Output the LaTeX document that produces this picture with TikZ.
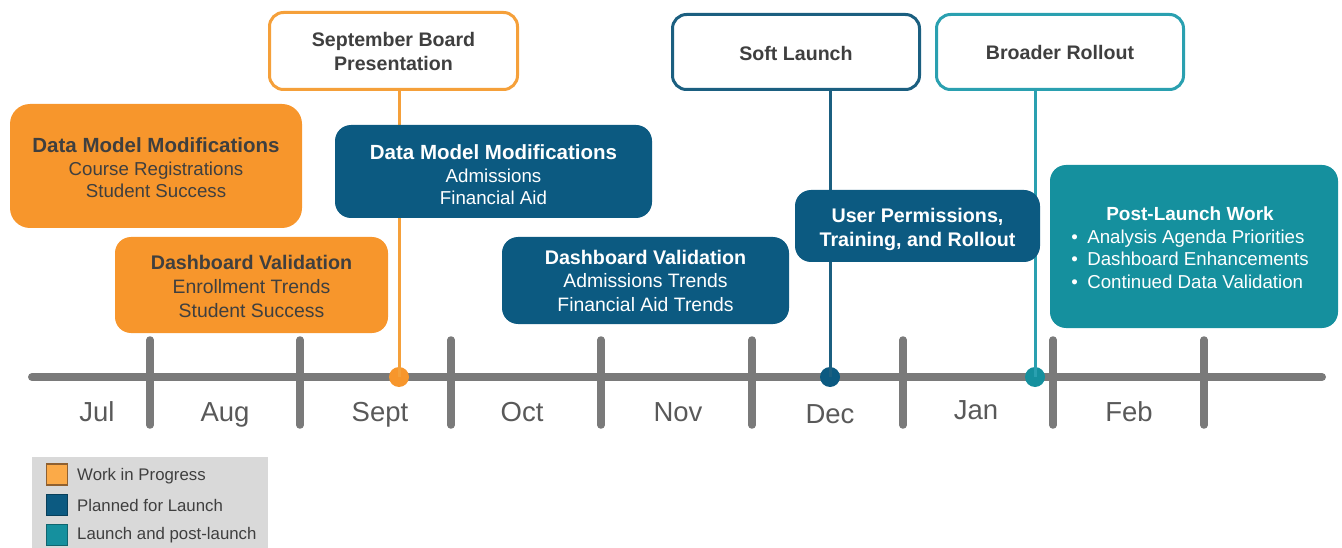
\documentclass[tikz,border=0pt]{standalone}
\usepackage{fontspec}
\setmainfont{Liberation Sans}
\definecolor{cOrange}{HTML}{F7962C}
\definecolor{cOrangeL}{HTML}{F5A03A}
\definecolor{cOrangeSq}{HTML}{FBAA48}
\definecolor{cBlue}{HTML}{0C5A81}
\definecolor{cBlueL}{HTML}{1B5F80}
\definecolor{cTeal}{HTML}{15909E}
\definecolor{cTealL}{HTML}{2AA0B0}
\definecolor{cText}{HTML}{3F3F3F}
\definecolor{cGray}{HTML}{7A7A7A}
\definecolor{cMonth}{HTML}{595959}
\definecolor{cLegend}{HTML}{D9D9D9}
\newcommand{\lowertext}[2]{\raisebox{-#1}[\height][\depth]{\begin{tabular}{@{}c@{}}#2\end{tabular}}}
\begin{document}
\begin{tikzpicture}[x=1pt,y=-1pt,
  axisline/.style={cGray, line width=8pt, line cap=round},
  box/.style={rounded corners=16pt, inner sep=0pt, align=center},
  wip/.style={box, fill=cOrange, text=cText},
  plan/.style={box, fill=cBlue, text=white},
  launch/.style={box, fill=cTeal, text=white},
  mile/.style={box, fill=white, line width=3pt, rounded corners=14pt, text=cText,
    font=\bfseries\fontsize{19.6}{24}\selectfont},
  dot/.style={circle, minimum size=20pt, inner sep=0pt},
  conn/.style={line width=3pt},
  month/.style={anchor=base, text=cMonth, font=\fontsize{27.5}{30}\selectfont},
  legsq/.style={minimum size=21pt, inner sep=0pt, line width=1.2pt},
  legtxt/.style={anchor=west, text=cText, font=\fontsize{16.8}{20}\selectfont, inner sep=0pt}
]
\useasboundingbox (0,0) rectangle (1342,548);

% timeline
\coordinate (tl0) at (32,377);
\coordinate (tl1) at (1322,377);
\draw[axisline] (tl0) -- (tl1);
\foreach \x in {150,300,451,601,752,903,1053,1204}
  \draw[axisline, line width=7.5pt] (\x,340) -- (\x,425);

% months
\node[month] (mJul) at (97,421) {Jul};
\node[month] (mAug) at (225,421) {Aug};
\node[month] (mSep) at (380,421) {Sept};
\node[month] (mOct) at (522,421) {Oct};
\node[month] (mNov) at (678,421) {Nov};
\node[month] (mDec) at (830,423) {Dec};
\node[month] (mJan) at (976,419) {Jan};
\node[month] (mFeb) at (1129,421) {Feb};

% milestones
\node[mile, draw=cOrangeL, minimum width=248pt, minimum height=77pt] (sept) at (393.5,51)
  {\lowertext{2.8pt}{September Board\\Presentation}};
\node[mile, draw=cBlueL, minimum width=247pt, minimum height=75pt] (soft) at (796,52)
  {\lowertext{3.3pt}{Soft Launch}};
\node[mile, draw=cTealL, minimum width=247pt, minimum height=75pt] (broad) at (1060,52)
  {Broader Rollout};

% dots
\node[dot, fill=cOrange] (dSept) at (399,377) {};
\node[dot, fill=cBlue] (dSoft) at (830,377) {};
\node[dot, fill=cTeal] (dBroad) at (1035,377) {};

% connectors
\draw[conn, cOrangeL] (dSept |- sept.south) -- (dSept.center);
\draw[conn, cBlueL] (dSoft |- soft.south) -- (dSoft.center);
\draw[conn, cTealL] (dBroad |- broad.south) -- (dBroad.center);

% task boxes
\node[wip, rounded corners=20pt, minimum width=292pt, minimum height=124pt,
  font=\fontsize{18.7}{22.5}\selectfont] (dmm1) at (156,166)
  {\lowertext{5pt}{{\bfseries\fontsize{20.5}{22.5}\selectfont Data Model Modifications}\\Course Registrations\\Student Success}};
\node[wip, minimum width=273pt, minimum height=96pt,
  font=\fontsize{19.4}{24}\selectfont] (dv1) at (251.5,285)
  {\lowertext{3.5pt}{{\bfseries\fontsize{19.7}{24}\selectfont Dashboard Validation}\\Enrollment Trends\\Student Success}};
\node[plan, minimum width=317pt, minimum height=93pt,
  font=\fontsize{18.7}{22.5}\selectfont] (dmm2) at (493.5,171.5)
  {\lowertext{6.5pt}{{\bfseries\fontsize{20.5}{22.5}\selectfont Data Model Modifications}\\Admissions\\Financial Aid}};
\node[plan, minimum width=287pt, minimum height=87pt,
  font=\fontsize{19.4}{23.5}\selectfont] (dv2) at (645.5,280.5)
  {{\bfseries\fontsize{19.7}{23.5}\selectfont Dashboard Validation}\\Admissions Trends\\Financial Aid Trends};
\node[plan, minimum width=245pt, minimum height=72pt,
  font=\bfseries\fontsize{19.7}{24}\selectfont] (perm) at (917.5,226)
  {\lowertext{3.3pt}{User Permissions,\\Training, and Rollout}};
\node[launch, minimum width=288pt, minimum height=163pt,
  font=\fontsize{18.7}{22.7}\selectfont] (post) at (1194,246.5)
  {\raisebox{-3.5pt}[\height][\depth]{\begin{tabular}{@{}c@{}}{\bfseries\fontsize{19}{22.7}\selectfont Post-Launch Work}\\
   \begin{tabular}[t]{@{}l@{}}\makebox[16pt][l]{•}Analysis Agenda Priorities\\
   \makebox[16pt][l]{•}Dashboard Enhancements\\
   \makebox[16pt][l]{•}Continued Data Validation\end{tabular}\end{tabular}}\hspace*{8pt}};

% legend
\fill[cLegend] (32,457) rectangle (268,548);
\node[legsq, fill=cOrangeSq, draw=brown!75!black] (lg1) at (57,474.5) {};
\node[legsq, fill=cBlue, draw=cBlue!70!black] (lg2) at (57,505) {};
\node[legsq, fill=cTeal, draw=cTeal!70!black] (lg3) at (57,535) {};
\node[legtxt] (lt1) at (77,476) {Work in Progress};
\node[legtxt] (lt2) at (77,505) {Planned for Launch};
\node[legtxt] (lt3) at (77,535) {Launch and post-launch};
\end{tikzpicture}
\end{document}
